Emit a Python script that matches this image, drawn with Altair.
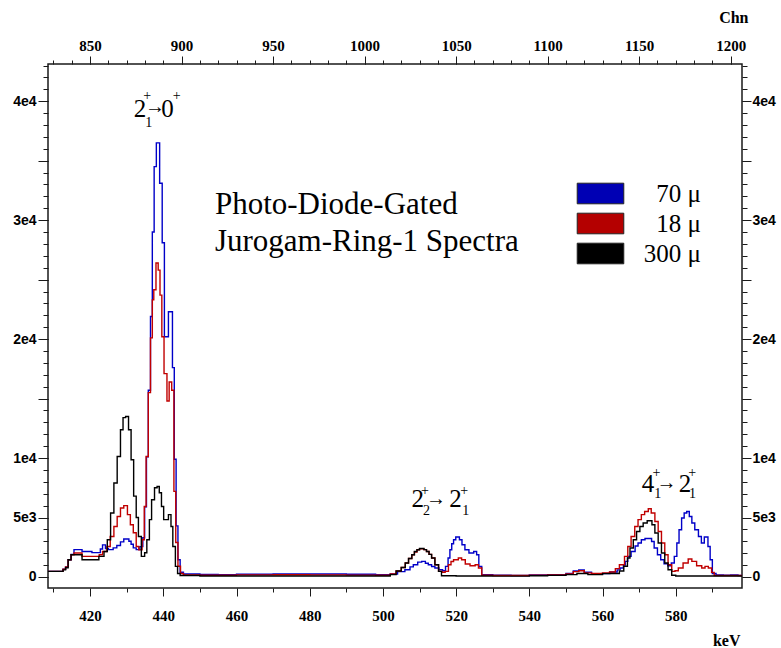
import altair as alt
import pandas as pd

# ---------------- data ----------------
SERIES = ["70 μ", "18 μ", "300 μ"]
COLORS = ["#0000c8", "#c00000", "#000000"]
LEGEND_COLORS = ["#0000b4", "#b40000", "#000000"]

BLUE_KEV = [408.5, 412.6, 413.3, 414.0, 414.8, 415.6, 417.8, 420.5, 422.8, 423.4, 424.2, 425.0,
            426.3, 427.3, 428.3, 429.2, 430.6, 431.2, 431.8, 432.6, 433.6, 434.4, 434.9, 435.4,
            435.9, 436.5, 437.0, 437.5, 438.1, 439.0, 439.7, 440.3, 441.4, 442.5, 443.0, 443.5,
            444.0, 444.6, 445.5, 450, 455, 460, 470, 480, 490, 498, 502, 504, 506.0, 507.4,
            508.3, 509.5, 510.6, 511.6, 512.4, 513.3, 514.2, 515.3, 516.3, 517.1, 517.8, 518.3,
            518.8, 519.3, 519.9, 520.9, 521.6, 522.4, 523.5, 524.8, 525.6, 526.2, 527.0, 530,
            535, 540, 545, 550, 552, 553.5, 555, 557, 560, 562, 564.0, 564.8, 565.7, 566.2,
            566.9, 567.8, 568.9, 569.7, 570.6, 571.6, 573.4, 574.1, 575.0, 575.9, 576.8, 577.8,
            578.8, 579.6, 580.3, 580.9, 581.6, 582.3, 583.0, 583.7, 584.4, 585.2, 586.2, 587.0,
            587.8, 588.8, 589.4, 590.0, 591, 593, 595, 597, 598.1]
BLUE_CNT = [470, 650, 850, 1450, 1900, 2300, 2150, 2050, 2350, 2700, 2400, 2300,
            2450, 2650, 2950, 3200, 3000, 2750, 2450, 2300, 2550, 3300, 5900, 10100,
            15700, 21900, 29000, 34500, 36500, 33100, 28100, 20200, 22300, 17600, 9900, 4300,
            1450, 400, 250, 220, 200, 230, 260, 250, 230, 200, 250, 450, 610, 850,
            1030, 1250, 1310, 1150, 1030, 880, 760, 610, 530, 890, 1600, 2290,
            2800, 3130, 3360, 3130, 2710, 2290, 2020, 2150, 1870, 890, 200, 150,
            120, 170, 200, 300, 500, 600, 400, 250, 300, 420, 600, 760, 1000, 1310,
            1730, 2150, 2600, 2860, 3130, 3240, 2990, 2440, 1870, 1450, 1120, 950,
            1180, 1730, 2860, 3970, 4960, 5380, 5510, 5090, 4540, 3970, 3410, 2860,
            3360, 2570, 1450, 300, 180, 150, 170, 120, 120]

RED_KEV = [408.5, 412.6, 413.3, 414.0, 414.8, 415.6, 417.8, 422.5, 423.4, 424.6, 425.5, 426.5,
           427.4, 428.3, 429.2, 430.2, 431.0, 431.8, 432.6, 433.3, 434.2, 434.8, 435.3, 435.9,
           436.5, 437.0, 437.4, 438.0, 438.6, 439.1, 439.6, 440.2, 441.0, 441.6, 442.3, 442.9,
           443.4, 444.0, 444.7, 445.5, 450, 460, 470, 480, 490, 498, 502, 503.6, 505, 506.1,
           507.0, 507.9, 508.6, 509.3, 510.0, 511.2, 511.9, 512.6, 513.3, 514.2, 515.2, 516.2,
           517.0, 517.9, 518.6, 519.3, 520.6, 521.5, 522.5, 523.8, 525.2, 526.1, 527.0, 530,
           540, 545, 550, 552, 553.5, 555, 557, 560, 561.9, 563.5, 564.6, 566.0, 566.9, 567.8,
           568.8, 569.7, 570.6, 571.5, 572.5, 573.3, 574.3, 575.2, 576.1, 577.0, 577.9, 578.9,
           579.8, 580.7, 582.0, 583.4, 584.4, 585.7, 587.1, 588.0, 588.9, 589.8, 590.5, 598.1]
RED_CNT = [470, 650, 850, 1450, 1870, 2020, 1730, 1870, 2150, 2570, 3410, 4250,
           5090, 5800, 6000, 5240, 4390, 3720, 2570, 2290, 3130, 5930, 10130, 15500,
           20100, 23300, 24150, 26400, 25800, 23700, 20200, 17100, 14800, 16400, 15700, 7200,
           2900, 900, 300, 180, 150, 180, 190, 180, 160, 150, 250, 500, 800, 1180,
           1550, 1870, 2100, 2290, 2380, 2300, 2150, 1900, 1600, 1030, 470, 400,
           470, 1030, 1300, 1450, 1600, 1450, 1090, 950, 1030, 760, 150, 120,
           150, 180, 250, 450, 530, 350, 290, 350, 420, 700, 1030, 1730, 2570, 3410,
           4250, 4820, 5240, 5510, 5740, 5380, 4670, 3830, 2860, 1870, 1030, 470,
           530, 760, 1180, 1510, 1310, 950, 760, 890, 760, 390, 120, 100]

BLACK_KEV = [408.5, 412.6, 413.3, 414.0, 414.8, 417.8, 422.4, 423.8, 424.7, 425.6, 426.5, 427.4,
             428.3, 429.0, 429.7, 430.5, 431.2, 431.9, 432.6, 433.2, 434.0, 434.9, 435.5, 436.2,
             436.8, 437.6, 438.3, 438.9, 439.5, 440.1, 441.4, 442.1, 442.6, 443.3, 443.9, 444.6,
             450, 460, 480, 498, 502, 503.6, 505, 506.1, 507.0, 507.9, 508.6, 509.3, 510.0,
             511.2, 511.9, 512.6, 513.3, 514.2, 515.2, 516.0, 520, 530, 540, 545, 550, 553,
             556, 560, 561.9, 564.6, 565.8, 566.8, 567.5, 568.4, 569.3, 570.2, 571.1, 572.2,
             573.5, 574.3, 575.2, 576.1, 577.0, 577.9, 578.9, 580, 598.1]
BLACK_CNT = [470, 600, 780, 1450, 1870, 1450, 1730, 2150, 3130, 5380, 7900, 10130,
             12380, 13400, 13500, 12380, 9860, 6800, 5000, 3410, 1730, 2040, 3130, 4820,
             6500, 7500, 7610, 7080, 5930, 4820, 5240, 4250, 2570, 890, 300, 120,
             90, 90, 80, 80, 200, 500, 800, 1180, 1550, 1870, 2150, 2290, 2400,
             2300, 2150, 1900, 1600, 1030, 470, 100, 80, 70, 110, 140, 200, 300,
             200, 280, 300, 500, 900, 1600, 2440, 3130, 3830, 4250, 4540, 4730,
             4390, 3700, 2860, 2020, 1180, 610, 150, 90, 90]

# axis ticks
KEV_MAJOR = [420, 440, 460, 480, 500, 520, 540, 560, 580]
KEV_MINOR = [410, 430, 450, 470, 490, 510, 530, 550, 570, 590]
CHN_MAJOR = [850, 900, 950, 1000, 1050, 1100, 1150, 1200]
CHN_MINOR = list(range(830, 1207, 10))
CNT_MAJOR = list(range(0, 40001, 5000))
CNT_MINOR = list(range(0, 43001, 1000))

X_DOMAIN = [408.5, 598.1]
Y_DOMAIN = [-925, 43130]
CHN_DOMAIN = [2 * X_DOMAIN[0] + 10, 2 * X_DOMAIN[1] + 10]

# annotations (positions in keV / counts)
BIG_TEXT = ["2", "0", "2", "2", "4", "2"]
BIG_KEV = [433.64, 441.15, 509.5, 519.8, 572.4, 582.5]
BIG_CNT = [38700, 38700, 5910, 5910, 7170, 7170]
SUB_TEXT = ["1", "2", "1", "1", "1"]
SUB_KEV = [436.0, 511.9, 522.6, 575.1, 584.6]
SUB_CNT = [37860, 5213, 5213, 6617, 6617]
SUP_KEV = [435.6, 443.66, 511.5, 522.2, 574.7, 584.5]
SUP_CNT = [40400, 40400, 7190, 7190, 8744, 8744]
ARROW_KEV = [437.73, 514.5, 577.5]
ARROW_CNT = [39520, 6560, 7930]
TITLE_LINES = ["Photo-Diode-Gated", "Jurogam-Ring-1 Spectra"]
TITLE_KEV = [454.1, 454.1]
TITLE_CNT = [31280, 28170]

# ---------------- build tables ----------------
rows = []
for name, ks, cs in zip(SERIES, [BLUE_KEV, RED_KEV, BLACK_KEV], [BLUE_CNT, RED_CNT, BLACK_CNT]):
    for k, c in zip(ks, cs):
        rows.append({"series": name, "keV": k, "counts": c})
spec = pd.DataFrame(rows)

SERIF = "Liberation Serif"
SANS = "Liberation Sans"
AX = "#1a1a1a"

xs = alt.Scale(domain=X_DOMAIN, nice=False, zero=False)
ys = alt.Scale(domain=Y_DOMAIN, nice=False, zero=False)
cs_ = alt.Scale(domain=CHN_DOMAIN, nice=False, zero=False)

ylabel = ("datum.value == 0 ? '0' : datum.value == 5000 ? '5e3' : "
          "datum.value % 10000 == 0 ? format(datum.value / 10000, 'd') + 'e4' : ''")

lines = alt.Chart(spec).mark_line(interpolate="step-after", strokeWidth=1.4, clip=True).encode(
    x=alt.X("keV:Q", scale=xs, axis=alt.Axis(
        orient="bottom", values=KEV_MAJOR, format="d", tickSize=8, tickColor=AX, tickWidth=1,
        domain=False, grid=False, labelFont=SERIF, labelFontWeight="bold", labelFontSize=15,
        labelColor="black", labelPadding=12, title="keV", titleFont=SERIF, titleFontSize=16,
        titleFontWeight="bold", titleAlign="right", titleAnchor="end", titleX=692, titleY=52,
        titleBaseline="middle")),
    y=alt.Y("counts:Q", scale=ys, axis=alt.Axis(
        orient="left", values=CNT_MAJOR, labelExpr=ylabel, tickSize=10, tickColor=AX,
        domain=False, grid=False, labelFont=SANS, labelFontWeight="bold", labelFontSize=14,
        labelColor="black", labelPadding=2, title=None)),
    color=alt.Color("series:N", scale=alt.Scale(domain=SERIES, range=COLORS), legend=None),
)

legend_layer = alt.Chart(pd.DataFrame({"series": SERIES})).mark_point(
    filled=True, size=0, opacity=1).encode(
    color=alt.Color("series:N", scale=alt.Scale(domain=SERIES, range=LEGEND_COLORS), legend=alt.Legend(
        title=None, orient="none", legendX=537, legendY=114, padding=0,
        symbolType="M-1.553,-0.687H1.553V0.687H-1.553Z", symbolSize=900, symbolStrokeWidth=1,
        symbolStrokeColor="#222222", symbolOpacity=1,
        labelFont=SERIF, labelFontSize=25, labelColor="black", labelAlign="right",
        labelOffset=85, rowPadding=1)),
)

one = pd.DataFrame({"keV": [X_DOMAIN[0]], "counts": [0], "chn": [CHN_DOMAIN[0]]})

minor_bl = alt.Chart(one).mark_point(opacity=0).encode(
    x=alt.X("keV:Q", scale=xs, axis=alt.Axis(orient="bottom", values=KEV_MINOR, labels=False,
                                              tickSize=4, tickColor=AX, domain=False, grid=False, title=None)),
    y=alt.Y("counts:Q", scale=ys, axis=alt.Axis(orient="left", values=CNT_MINOR, labels=False,
                                                 tickSize=5, tickColor=AX, domain=False, grid=False, title=None)),
)

right_major = alt.Chart(one).mark_point(opacity=0).encode(
    y=alt.Y("counts:Q", scale=ys, axis=alt.Axis(
        orient="right", values=CNT_MAJOR, labelExpr=ylabel, tickSize=9, tickColor=AX,
        domain=False, grid=False, labelFont=SANS, labelFontWeight="bold", labelFontSize=14,
        labelColor="black", labelPadding=1, title=None)),
)
right_minor = alt.Chart(one).mark_point(opacity=0).encode(
    y=alt.Y("counts:Q", scale=ys, axis=alt.Axis(orient="right", values=CNT_MINOR, labels=False,
                                                 tickSize=5, tickColor=AX, domain=False, grid=False, title=None)),
)

top_major = alt.Chart(one).mark_point(opacity=0).encode(
    x=alt.X("chn:Q", scale=cs_, axis=alt.Axis(
        orient="top", values=CHN_MAJOR, format="d", tickSize=8, tickColor=AX, domain=False,
        grid=False, labelFont=SERIF, labelFontWeight="bold", labelFontSize=15, labelColor="black",
        labelPadding=3, title="Chn", titleFont=SERIF, titleFontSize=16, titleFontWeight="bold",
        titleAlign="right", titleAnchor="end", titleX=700, titleY=-47, titleBaseline="middle")),
)
top_minor = alt.Chart(one).mark_point(opacity=0).encode(
    x=alt.X("chn:Q", scale=cs_, axis=alt.Axis(orient="top", values=CHN_MINOR, labels=False,
                                               tickSize=4, tickColor=AX, domain=False, grid=False, title=None)),
)

noax_x = alt.X("keV:Q", scale=xs, axis=None)
noax_y = alt.Y("counts:Q", scale=ys, axis=None)

big = alt.Chart(pd.DataFrame({"t": BIG_TEXT, "keV": BIG_KEV, "counts": BIG_CNT})).mark_text(
    font=SERIF, fontSize=25, align="center", baseline="alphabetic", color="black"
).encode(x=noax_x, y=noax_y, text="t:N")
sub = alt.Chart(pd.DataFrame({"t": SUB_TEXT, "keV": SUB_KEV, "counts": SUB_CNT})).mark_text(
    font=SERIF, fontSize=14, align="center", baseline="alphabetic", color="black"
).encode(x=noax_x, y=noax_y, text="t:N")
sup = alt.Chart(pd.DataFrame({"keV": SUP_KEV, "counts": SUP_CNT})).mark_text(
    font=SERIF, fontSize=14, align="center", baseline="middle", color="black", text="+"
).encode(x=noax_x, y=noax_y)
arrow = alt.Chart(pd.DataFrame({"keV": ARROW_KEV, "counts": ARROW_CNT})).mark_text(
    font=SERIF, fontSize=20, align="center", baseline="middle", color="black", text="→"
).encode(x=noax_x, y=noax_y)
title = alt.Chart(pd.DataFrame({"t": TITLE_LINES, "keV": TITLE_KEV, "counts": TITLE_CNT})).mark_text(
    font=SERIF, fontSize=31, align="left", baseline="middle", color="black"
).encode(x=noax_x, y=noax_y, text="t:N")

chart = alt.layer(
    lines, legend_layer, minor_bl, right_major, right_minor, top_major, top_minor,
    big, sub, sup, arrow, title
).resolve_scale(x="independent", y="independent", color="independent").properties(
    width=694, height=524,
    autosize=alt.AutoSizeParams(type="none"),
    padding={"left": 48, "top": 64, "right": 39, "bottom": 60},
    background="white",
).configure_view(stroke=AX, strokeWidth=1.5)

chart.save("out.html", embed_options={"renderer": "svg", "actions": False})
